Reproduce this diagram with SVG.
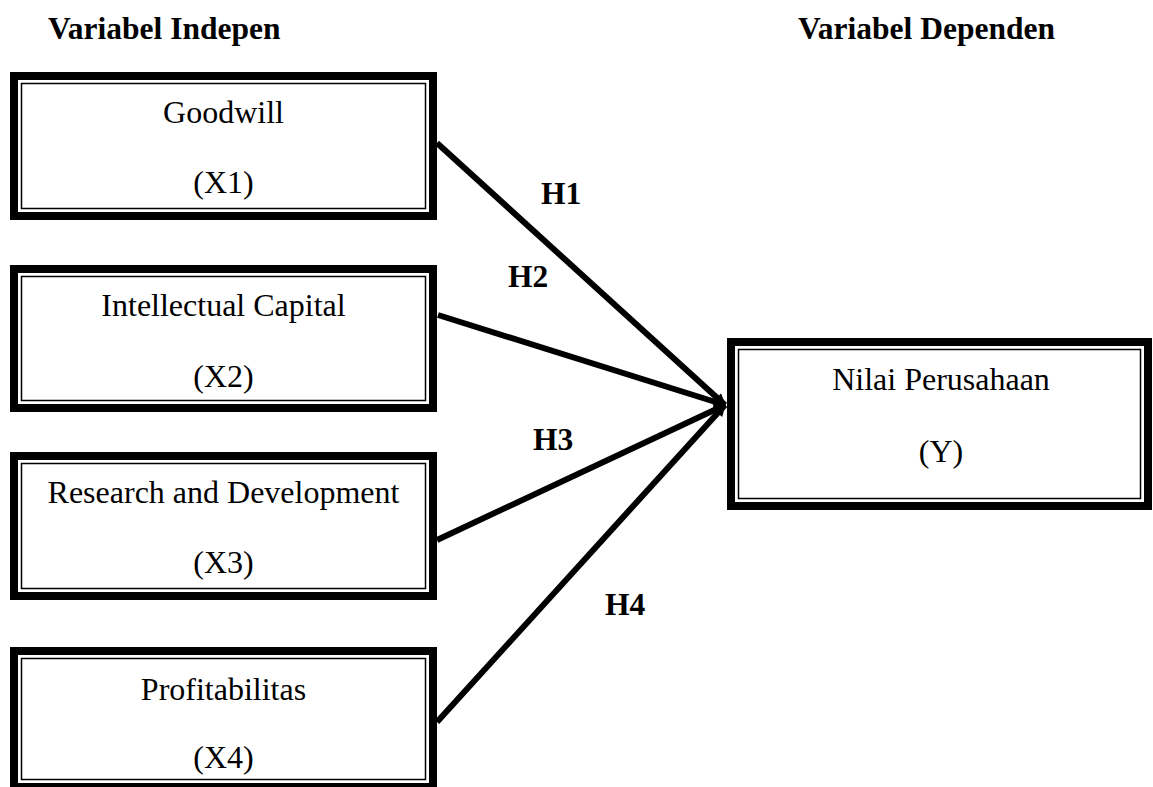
<svg xmlns="http://www.w3.org/2000/svg" width="1153" height="787" viewBox="0 0 1153 787">
<style>
.outer{fill:#fff;stroke:#000;stroke-width:8}
.inner{fill:none;stroke:#000;stroke-width:1.5}
.t{font-family:"Liberation Serif","Times New Roman",serif;font-size:32px;fill:#000;text-anchor:middle}
.h{font-family:"Liberation Serif","Times New Roman",serif;font-size:31.5px;font-weight:bold;fill:#000}
.c{stroke:#000;stroke-width:6;fill:none;marker-end:url(#ah)}
</style>
<defs>
<marker id="ah" viewBox="0 0 10 10" refX="9" refY="5" markerWidth="14" markerHeight="12" markerUnits="userSpaceOnUse" orient="auto">
<path d="M0,0 L10,5 L0,10 Z" fill="#000"/>
</marker>
</defs>
<rect width="1153" height="787" fill="#fff"/>
<g id="titles">
<text class="h" x="48" y="39">Variabel Indepen</text>
<text class="h" x="798" y="39">Variabel Dependen</text>
</g>
<g id="connectors">
<line class="c" x1="437" y1="143" x2="725" y2="405"/>
<line class="c" x1="438" y1="315" x2="725" y2="405"/>
<line class="c" x1="437" y1="540" x2="725" y2="405"/>
<line class="c" x1="437" y1="722" x2="725" y2="405"/>
<text class="h" x="541" y="204">H1</text>
<text class="h" x="508" y="287">H2</text>
<text class="h" x="533" y="450">H3</text>
<text class="h" x="605" y="615">H4</text>
</g>
<g id="x1">
<rect class="outer" x="14" y="76" width="419" height="140"/>
<rect class="inner" x="21.5" y="83.5" width="404" height="125"/>
<text class="t" x="223.5" y="123">Goodwill</text>
<text class="t" x="223.5" y="193">(X1)</text>
</g>
<g id="x2">
<rect class="outer" x="14" y="269" width="419" height="139"/>
<rect class="inner" x="21.5" y="276.5" width="404" height="124"/>
<text class="t" x="223.5" y="316">Intellectual Capital</text>
<text class="t" x="223.5" y="387">(X2)</text>
</g>
<g id="x3">
<rect class="outer" x="14" y="456" width="419" height="140"/>
<rect class="inner" x="21.5" y="463.5" width="404" height="125"/>
<text class="t" x="223.5" y="503">Research and Development</text>
<text class="t" x="223.5" y="573">(X3)</text>
</g>
<g id="x4">
<rect class="outer" x="14" y="651" width="419" height="136"/>
<rect class="inner" x="21.5" y="658.5" width="404" height="121"/>
<text class="t" x="223.5" y="700">Profitabilitas</text>
<text class="t" x="223.5" y="768">(X4)</text>
</g>
<g id="y">
<rect class="outer" x="731" y="342" width="417" height="164"/>
<rect class="inner" x="738.5" y="349.5" width="402" height="149"/>
<text class="t" x="941" y="390">Nilai Perusahaan</text>
<text class="t" x="941" y="462">(Y)</text>
</g>
</svg>
